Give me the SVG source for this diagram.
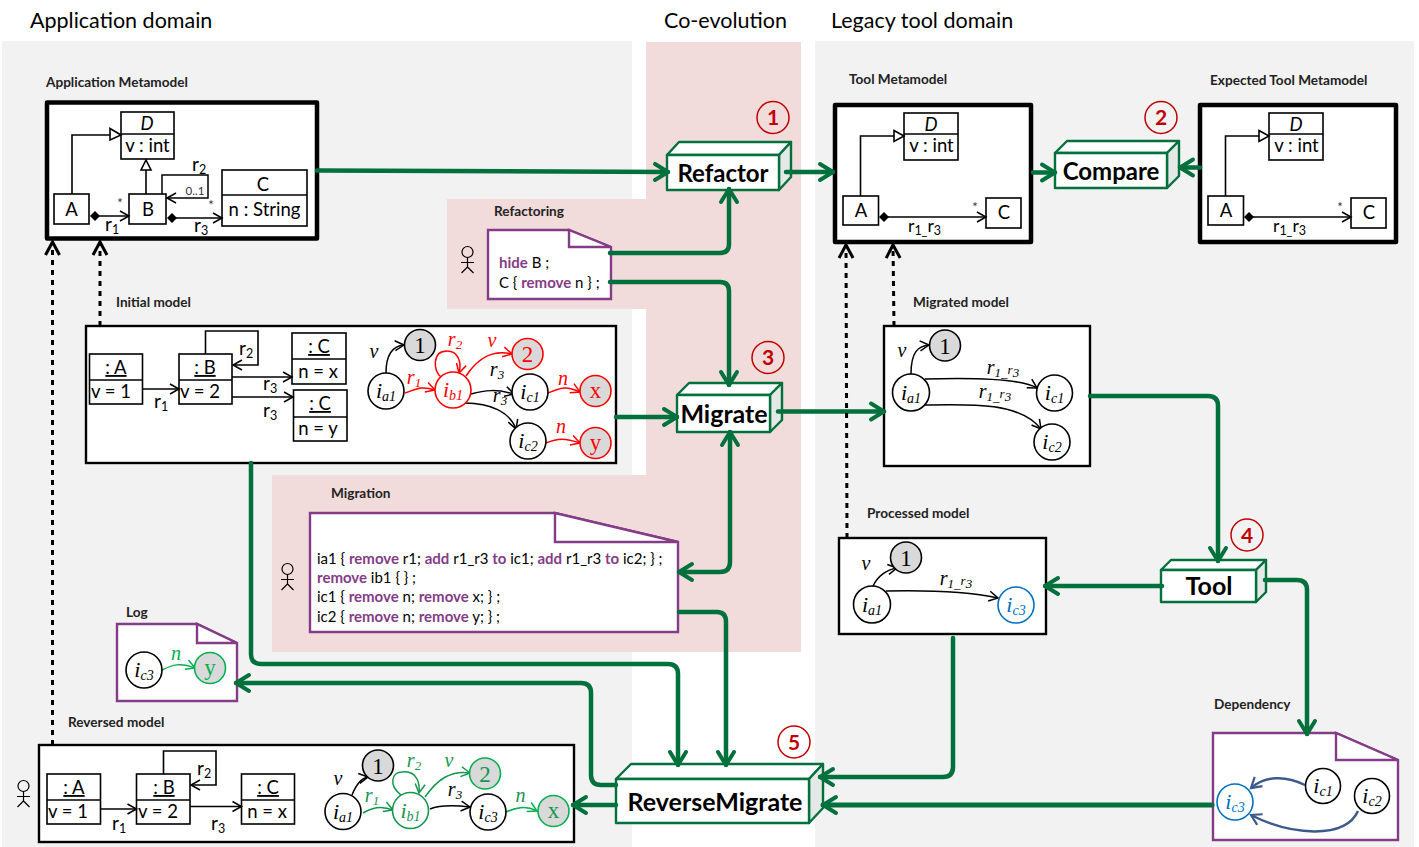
<svg xmlns="http://www.w3.org/2000/svg" width="1419" height="847" viewBox="0 0 1419 847">
<style>
text{font-family:"Lato","Liberation Sans",sans-serif;fill:#000}
.title{font-size:21.5px}
.lbl{font-size:13.6px;font-weight:700;fill:#222}
.cls{font-size:18.5px;text-anchor:middle}
.u{text-decoration:underline}
.it{font-style:italic}
.small{font-size:13px;text-anchor:middle;fill:#333}
.rel{font-size:19px}
.rel2{font-size:17.5px}
.sub{font-size:12.5px}
.box{fill:#fff;stroke:#000;stroke-width:1.6}
.mm{fill:#fff;stroke:#000;stroke-width:4.5;stroke-linejoin:round}
.mod{fill:#fff;stroke:#000;stroke-width:2.4}
.ln{fill:none;stroke:#000;stroke-width:1.6}
.e{fill:none;stroke:#000;stroke-width:1.5;marker-end:url(#ab)}
.er{fill:none;stroke:#f00;stroke-width:1.5;marker-end:url(#ar)}
.eg{fill:none;stroke:#00b050;stroke-width:1.5;marker-end:url(#ag)}
.ed{fill:none;stroke:#14964f;stroke-width:1.5;marker-end:url(#ad)}
.dep{fill:none;stroke:#3b5b8c;stroke-width:2.5;marker-end:url(#adep)}
.m{font-family:"Liberation Serif",serif;font-style:italic;font-size:22px;text-anchor:middle}
.m tspan{font-size:14px}
.ml{font-family:"Liberation Serif",serif;font-style:italic;font-size:20px;text-anchor:middle}
.ml tspan{font-size:13px}
.num{font-family:"Liberation Serif",serif;font-size:23px;text-anchor:middle}
.c{fill:#fff;stroke:#000;stroke-width:1.6}
.cv{fill:#d9d9d9;stroke:#000;stroke-width:1.6}
.red{fill:#f00}
.gr{fill:#00b050}
.dg{fill:#14964f}
.bl{fill:#0070c0}
.note{fill:#fff;stroke:#843c87;stroke-width:2.4;stroke-linejoin:miter}
.code{font-size:15px}
.kw{font-weight:700;fill:#843c87}
.op{fill:#fff;stroke:#00703c;stroke-width:2.4;stroke-linejoin:round}
.ops{fill:#e4e8e6;stroke:#00703c;stroke-width:2.4;stroke-linejoin:round}
.opt{font-weight:700;font-size:25px;text-anchor:middle}
.bc{fill:none;stroke:#c00000;stroke-width:1.5}
.bt{font-weight:700;font-size:21px;fill:#c00000;text-anchor:middle}
.g{fill:none;stroke:#00703c;stroke-width:4.5;stroke-linecap:round;marker-end:url(#at)}
.dot{fill:none;stroke:#000;stroke-width:3;stroke-dasharray:5 5;marker-end:url(#ak)}
</style>
<defs>
<marker id="ab" markerUnits="userSpaceOnUse" markerWidth="14" markerHeight="14" refX="0" refY="0" orient="auto" overflow="visible"><path d="M-9,-5 L0,0 L-9,5" fill="none" stroke="#000" stroke-width="1.5"/></marker>
<marker id="ar" markerUnits="userSpaceOnUse" markerWidth="14" markerHeight="14" orient="auto" overflow="visible"><path d="M-9,-5 L0,0 L-9,5" fill="none" stroke="#f00" stroke-width="1.5"/></marker>
<marker id="ag" markerUnits="userSpaceOnUse" markerWidth="14" markerHeight="14" orient="auto" overflow="visible"><path d="M-9,-5 L0,0 L-9,5" fill="none" stroke="#00b050" stroke-width="1.5"/></marker>
<marker id="ad" markerUnits="userSpaceOnUse" markerWidth="14" markerHeight="14" orient="auto" overflow="visible"><path d="M-9,-5 L0,0 L-9,5" fill="none" stroke="#14964f" stroke-width="1.5"/></marker>
<marker id="adep" markerUnits="userSpaceOnUse" markerWidth="14" markerHeight="14" orient="auto" overflow="visible"><path d="M-10,-6 L0,0 L-10,6" fill="none" stroke="#3b5b8c" stroke-width="2.2"/></marker>
<marker id="at" markerUnits="userSpaceOnUse" markerWidth="20" markerHeight="20" orient="auto-start-reverse" overflow="visible"><path d="M-13,-8 L0,0 L-13,8" fill="none" stroke="#00703c" stroke-width="4" stroke-linecap="round" stroke-linejoin="round"/></marker>
<marker id="ak" markerUnits="userSpaceOnUse" markerWidth="20" markerHeight="20" orient="auto" overflow="visible"><path d="M-13,-7 L0,0 L-13,7" fill="none" stroke="#000" stroke-width="3"/></marker>
<g id="actor"><circle cx="0" cy="0" r="5.5" fill="none" stroke="#000" stroke-width="1.2"/><path d="M0,5.5 V15 L-6,21 M0,15 L6,21 M-6.5,10.5 H6.5" fill="none" stroke="#000" stroke-width="1.2"/></g>
<path id="dia" d="M-5,0 L0,-5 L5,0 L0,5 Z" fill="#000"/>
</defs>

<rect width="1419" height="847" fill="#fff"/>
<g id="panels">
<rect x="2" y="41" width="630" height="806" fill="#f2f2f2"/>
<rect x="815" y="41" width="599" height="806" fill="#f2f2f2"/>
<rect x="646" y="42" width="155" height="610" fill="#f2dcdb"/>
<rect x="447" y="199" width="199" height="110" fill="#f2dcdb"/>
<rect x="272" y="475" width="374" height="177" fill="#f2dcdb"/>
</g>
<g id="titles">
<text class="title" x="30" y="28">Application domain</text>
<text class="title" x="664" y="28">Co-evolution</text>
<text class="title" x="831" y="28">Legacy tool domain</text>
</g>

<g id="application-metamodel">
<text class="lbl" x="46" y="87">Application Metamodel</text>
<rect class="mm" x="47" y="102.5" width="270" height="136"/>
<rect class="box" x="121" y="112" width="53" height="47"/><path class="ln" d="M121,134 H174"/>
<text class="cls it" x="147" y="130">D</text><text class="cls" x="147.500" y="152">v : int</text>
<rect class="box" x="54" y="194" width="35" height="30"/><text class="cls" x="71.500" y="216">A</text>
<rect class="box" x="129" y="194" width="37" height="30"/><text class="cls" x="148" y="216">B</text>
<rect class="box" x="222" y="170" width="85" height="56"/><path class="ln" d="M222,195 H307"/>
<text class="cls" x="263" y="191">C</text><text class="cls" x="264.500" y="216">n : String</text>
<path class="ln" d="M72,194 V135 H110"/><path d="M110,128.500 L121,135 L110,140 Z" fill="#fff" stroke="#000" stroke-width="1.6"/>
<path class="ln" d="M146,194 V170"/><path d="M146,160 L151,170 L141,170 Z" fill="#fff" stroke="#000" stroke-width="1.6"/>
<path class="e" d="M162,194 V175 H208 V198 H167"/>
<text class="small" x="195" y="195" style="font-size:11.500px">0..1</text>
<text class="rel" x="192" y="171">r<tspan class="sub" dy="3">2</tspan></text>
<use href="#dia" x="95" y="216"/><path class="e" d="M95,216 H129"/>
<text class="small" x="120" y="208">*</text>
<text class="rel" x="105" y="231">r<tspan class="sub" dy="3">1</tspan></text>
<use href="#dia" x="172" y="218"/><path class="e" d="M172,218 H222"/>
<text class="small" x="211" y="210">*</text>
<text class="rel" x="194" y="232">r<tspan class="sub" dy="3">3</tspan></text>
</g>

<g id="tool-metamodel">
<text class="lbl" x="849" y="84">Tool Metamodel</text>
<rect class="mm" x="835" y="105" width="196" height="137"/>
<rect class="box" x="904" y="113" width="54" height="47"/><path class="ln" d="M904,134 H958"/>
<text class="cls it" x="931" y="131">D</text><text class="cls" x="931.500" y="152">v : int</text>
<rect class="box" x="843" y="196" width="35.500" height="29"/><text class="cls" x="861" y="217">A</text>
<rect class="box" x="986" y="198" width="35" height="30"/><text class="cls" x="1004" y="219">C</text>
<path class="ln" d="M860.500,196 V136 H894"/><path d="M894,130.500 L904,136 L894,141.500 Z" fill="#fff" stroke="#000" stroke-width="1.600"/>
<use href="#dia" x="884" y="217"/><path class="e" d="M884,217 H986"/>
<text class="small" x="975" y="212">*</text>
<text class="rel2" x="908" y="232">r<tspan class="sub" dy="3">1_</tspan><tspan dy="-3">r</tspan><tspan class="sub" dy="3">3</tspan></text>
</g>

<g id="expected-tool-metamodel">
<text class="lbl" x="1210" y="85">Expected Tool Metamodel</text>
<rect class="mm" x="1200" y="105" width="196" height="137"/>
<rect class="box" x="1269" y="113" width="54" height="47"/><path class="ln" d="M1269,134 H1323"/>
<text class="cls it" x="1296" y="131">D</text><text class="cls" x="1296.500" y="152">v : int</text>
<rect class="box" x="1208" y="196" width="35.500" height="29"/><text class="cls" x="1226" y="217">A</text>
<rect class="box" x="1351" y="198" width="35" height="30"/><text class="cls" x="1369" y="219">C</text>
<path class="ln" d="M1225.500,196 V136 H1259"/><path d="M1259,130.500 L1269,136 L1259,141.500 Z" fill="#fff" stroke="#000" stroke-width="1.600"/>
<use href="#dia" x="1249" y="217"/><path class="e" d="M1249,217 H1351"/>
<text class="small" x="1340" y="212">*</text>
<text class="rel2" x="1273" y="232">r<tspan class="sub" dy="3">1_</tspan><tspan dy="-3">r</tspan><tspan class="sub" dy="3">3</tspan></text>
</g>

<g id="refactoring">
<text class="lbl" x="494" y="216">Refactoring</text>
<use href="#actor" x="467.500" y="252"/>
<path class="note" d="M488,230 H569 L611,247 V299 H488 Z"/><path class="note" d="M569,230 V247 H611 Z"/>
<text class="code" x="499" y="268"><tspan class="kw">hide</tspan> B ;</text>
<text class="code" x="499" y="288">C { <tspan class="kw">remove</tspan> n } ;</text>
</g>

<g id="initial-model">
<text class="lbl" x="116" y="307">Initial model</text>
<rect class="mod" x="86" y="326" width="530" height="137"/>
<rect class="box" x="89.500" y="354" width="53" height="50"/><path class="ln" d="M89.500,380 H142.500"/>
<text class="cls u" x="116" y="374">: A</text><text class="cls" x="111" y="398">v = 1</text>
<path class="ln" d="M205.500,354 V331 H258 V365 H233" marker-end="url(#ab)"/>
<rect class="box" x="179" y="354" width="53" height="50"/><path class="ln" d="M179,380 H232"/>
<text class="cls u" x="205" y="374">: B</text><text class="cls" x="200" y="398">v = 2</text>
<rect class="box" x="292" y="333" width="54" height="51"/><path class="ln" d="M292,359 H346"/>
<text class="cls u" x="319" y="353">: C</text><text class="cls" x="318" y="378">n = x</text>
<rect class="box" x="293.500" y="390" width="53.500" height="51"/><path class="ln" d="M293.500,417 H347"/>
<text class="cls u" x="320" y="410">: C</text><text class="cls" x="318" y="435">n = y</text>
<path class="e" d="M142.500,389 H179"/><text class="rel" x="154" y="408">r<tspan class="sub" dy="3">1</tspan></text>
<path class="e" d="M232,377 H292"/><text class="rel" x="263" y="390">r<tspan class="sub" dy="3">3</tspan></text>
<path class="e" d="M232,397 H293"/><text class="rel" x="263" y="417">r<tspan class="sub" dy="3">3</tspan></text>
<text class="rel" x="239" y="355">r<tspan class="sub" dy="3">2</tspan></text>
<path class="e" d="M386,373 C386,355 392,346 404,345"/>
<path class="er" d="M405,393 C415,390 420,385 435,390"/>
<path class="er" d="M441,377 C433,371 432,351 447,351 C458,351 462,362 459,373"/>
<path class="er" d="M466,376 C480,355 495,350 512,354"/>
<path class="e" d="M471,394 C485,390 497,389 514,394"/>
<path class="e" d="M465,403 C490,403 510,412 516,429"/>
<path class="er" d="M548,393 C560,388 565,385 580,392"/>
<path class="er" d="M546,443 C558,438 565,438 580,443"/>
<circle class="c" cx="386" cy="391" r="18"/><text class="m" x="386" y="398">i<tspan dy="3">a1</tspan></text>
<circle class="cv" cx="420" cy="345" r="15.500"/><text class="num" x="420" y="353">1</text>
<circle class="c" cx="453" cy="390" r="18" style="stroke:#f00"/><text class="m red" x="453" y="397">i<tspan dy="3">b1</tspan></text>
<circle class="cv" cx="527.500" cy="354" r="15.500" style="stroke:#f00"/><text class="num red" x="527.500" y="362">2</text>
<circle class="c" cx="530" cy="392" r="18"/><text class="m" x="530" y="399">i<tspan dy="3">c1</tspan></text>
<circle class="cv" cx="595.500" cy="391" r="15.500" style="stroke:#f00"/><text class="num red" x="595.500" y="398">x</text>
<circle class="c" cx="528" cy="441" r="18"/><text class="m" x="528" y="448">i<tspan dy="3">c2</tspan></text>
<circle class="cv" cx="595.500" cy="443" r="15.500" style="stroke:#f00"/><text class="num red" x="595.500" y="450">y</text>
<text class="ml" x="374" y="358">v</text>
<text class="ml red" x="414" y="384">r<tspan dy="3">1</tspan></text>
<text class="ml red" x="455" y="346">r<tspan dy="3">2</tspan></text>
<text class="ml red" x="492" y="347">v</text>
<text class="ml" x="497" y="376">r<tspan dy="3">3</tspan></text>
<text class="ml" x="500" y="402">r<tspan dy="3">3</tspan></text>
<text class="ml red" x="563" y="385">n</text>
<text class="ml red" x="561" y="433">n</text>
</g>

<g id="migrated-model">
<text class="lbl" x="913" y="307">Migrated model</text>
<rect class="mod" x="884" y="326" width="206" height="140"/>
<path class="e" d="M911,374 C911,352 918,346 929,345"/>
<path class="e" d="M925,379 C970,378 1020,378 1037,388"/>
<path class="e" d="M925,405 C970,404 1020,402 1041,429"/>
<circle class="c" cx="911" cy="392.500" r="18.500"/><text class="m" x="911" y="399.500">i<tspan dy="3">a1</tspan></text>
<circle class="cv" cx="945" cy="345.500" r="15.500"/><text class="num" x="945" y="353.500">1</text>
<circle class="c" cx="1054.500" cy="393" r="18"/><text class="m" x="1054.500" y="400">i<tspan dy="3">c1</tspan></text>
<circle class="c" cx="1052" cy="442" r="18"/><text class="m" x="1052" y="449">i<tspan dy="3">c2</tspan></text>
<text class="ml" x="902" y="357">v</text>
<text class="ml" x="1003" y="374">r<tspan dy="3">1_</tspan><tspan dy="-3">r</tspan><tspan dy="3">3</tspan></text>
<text class="ml" x="995" y="398">r<tspan dy="3">1_</tspan><tspan dy="-3">r</tspan><tspan dy="3">3</tspan></text>
</g>

<g id="processed-model">
<text class="lbl" x="867" y="518">Processed model</text>
<rect class="mod" x="839" y="538" width="207" height="96"/>
<path class="e" d="M873,586 C878,576 885,570 897,568"/>
<path class="e" d="M886,591 C930,590 970,592 998,598"/>
<circle class="c" cx="872" cy="604.500" r="18.500"/><text class="m" x="872" y="611.500">i<tspan dy="3">a1</tspan></text>
<circle class="cv" cx="906" cy="557.500" r="15.500"/><text class="num" x="906" y="565.500">1</text>
<circle class="c" cx="1016" cy="605" r="18" style="stroke:#0070c0"/><text class="m bl" x="1016" y="612">i<tspan dy="3">c3</tspan></text>
<text class="ml" x="866" y="570">v</text>
<text class="ml" x="956" y="585">r<tspan dy="3">1_</tspan><tspan dy="-3">r</tspan><tspan dy="3">3</tspan></text>
</g>

<g id="migration">
<text class="lbl" x="331" y="498">Migration</text>
<use href="#actor" x="287.500" y="569"/>
<path class="note" d="M310,513 H555 L678,542 V632 H310 Z"/><path class="note" d="M555,513 V542 H678 Z"/>
<text class="code" x="317" y="564">ia1 { <tspan class="kw">remove</tspan> r1; <tspan class="kw">add</tspan> r1_r3 <tspan class="kw">to</tspan> ic1; <tspan class="kw">add</tspan> r1_r3 <tspan class="kw">to</tspan> ic2; } ;</text>
<text class="code" x="317" y="583"><tspan class="kw">remove</tspan> ib1 { } ;</text>
<text class="code" x="317" y="602">ic1 { <tspan class="kw">remove</tspan> n; <tspan class="kw">remove</tspan> x; } ;</text>
<text class="code" x="317" y="622">ic2 { <tspan class="kw">remove</tspan> n; <tspan class="kw">remove</tspan> y; } ;</text>
</g>

<g id="log">
<text class="lbl" x="126" y="617">Log</text>
<path class="note" d="M117,624 H197 L237,643 V701 H117 Z"/><path class="note" d="M197,624 V643 H237 Z"/>
<path class="eg" d="M162,670 C172,665 180,662 195,668"/>
<circle class="c" cx="144" cy="670" r="18"/><text class="m" x="144" y="677">i<tspan dy="3">c3</tspan></text>
<circle class="cv" cx="210" cy="668" r="15.500" style="stroke:#00b050"/><text class="num gr" x="210" y="675">y</text>
<text class="ml gr" x="176" y="660">n</text>
</g>

<g id="reversed-model">
<text class="lbl" x="68" y="727">Reversed model</text>
<use href="#actor" x="23.500" y="786"/>
<rect class="mod" x="39" y="745" width="535" height="97"/>
<path class="ln" d="M163.500,774 V751 H216 V785 H191" marker-end="url(#ab)"/>
<rect class="box" x="47" y="774" width="53.500" height="50"/><path class="ln" d="M47,800 H100.500"/>
<text class="cls u" x="74" y="794">: A</text><text class="cls" x="68" y="818">v = 1</text>
<rect class="box" x="136.500" y="774" width="53.500" height="50"/><path class="ln" d="M136.500,800 H190"/>
<text class="cls u" x="164" y="794">: B</text><text class="cls" x="158" y="818">v = 2</text>
<rect class="box" x="241.500" y="774" width="53" height="50"/><path class="ln" d="M241.500,800 H294.500"/>
<text class="cls u" x="268" y="794">: C</text><text class="cls" x="267" y="818">n = x</text>
<path class="e" d="M100.500,809 H136.500"/><text class="rel" x="112" y="830">r<tspan class="sub" dy="3">1</tspan></text>
<path class="e" d="M190,806.500 H241.500"/><text class="rel" x="211" y="830">r<tspan class="sub" dy="3">3</tspan></text>
<text class="rel" x="197" y="775">r<tspan class="sub" dy="3">2</tspan></text>
<path class="e" d="M352,795 C356,785 362,778 368,777"/>
<path class="ed" d="M363,813 C372,808 380,805 393,810"/>
<path class="ed" d="M401,795 C388,785 392,772 402,772 C418,770 420,785 419,793"/>
<path class="ed" d="M425,797 C437,780 450,770 470,773"/>
<path class="e" d="M430,809 C440,805 452,805 470,807"/>
<path class="eg" d="M506,812 C515,808 525,805 537,811"/>
<circle class="c" cx="343" cy="811.500" r="18"/><text class="m" x="343" y="818.500">i<tspan dy="3">a1</tspan></text>
<circle class="cv" cx="378" cy="765.500" r="15.500"/><text class="num" x="378" y="773.500">1</text>
<circle class="c" cx="410.500" cy="810.500" r="18" style="stroke:#14964f"/><text class="m dg" x="410.500" y="817.500">i<tspan dy="3">b1</tspan></text>
<circle class="cv" cx="485" cy="773.500" r="15.500" style="stroke:#00b050"/><text class="num dg" x="485" y="781.500">2</text>
<circle class="c" cx="488" cy="812" r="18"/><text class="m" x="488" y="819">i<tspan dy="3">c3</tspan></text>
<circle class="cv" cx="553.500" cy="811" r="15.500" style="stroke:#00b050"/><text class="num dg" x="553.500" y="818">x</text>
<text class="ml" x="338" y="785">v</text>
<text class="ml dg" x="372" y="802">r<tspan dy="3">1</tspan></text>
<text class="ml dg" x="414" y="767">r<tspan dy="3">2</tspan></text>
<text class="ml dg" x="449" y="767">v</text>
<text class="ml" x="455" y="796">r<tspan dy="3">3</tspan></text>
<text class="ml dg" x="520.500" y="802">n</text>
</g>

<g id="dependency">
<text class="lbl" x="1214" y="709">Dependency</text>
<path class="note" d="M1213,733 H1336 L1398,760 V840 H1213 Z"/><path class="note" d="M1336,733 V760 H1398 Z"/>
<path class="dep" d="M1305,785 C1285,775 1265,776 1251,788"/>
<path class="dep" d="M1358,811 C1345,840 1290,835 1251,815"/>
<circle class="c" cx="1235" cy="802" r="18" style="stroke:#0070c0"/><text class="m bl" x="1235" y="809">i<tspan dy="3">c3</tspan></text>
<circle class="c" cx="1323" cy="786" r="17.500"/><text class="m" x="1323" y="793">i<tspan dy="3">c1</tspan></text>
<circle class="c" cx="1372" cy="796" r="17.500"/><text class="m" x="1372" y="803">i<tspan dy="3">c2</tspan></text>
</g>

<g id="refactor">
<path class="op" d="M667,155 L679,142 H791 L779,155 Z"/><path class="ops" d="M779,155 L791,142 V177 L779,190 Z"/><rect class="op" x="667" y="155" width="112" height="35"/>
<text class="opt" x="723" y="182" style="font-size:24px">Refactor</text>
<circle class="bc" cx="773" cy="117.500" r="16"/><text class="bt" x="773" y="125">1</text>
</g>
<g id="compare">
<path class="op" d="M1055,153 L1067,141 H1179 L1167,153 Z"/><path class="ops" d="M1167,153 L1179,141 V176 L1167,188 Z"/><rect class="op" x="1055" y="153" width="112" height="35"/>
<text class="opt" x="1111" y="180" style="font-size:24px">Compare</text>
<circle class="bc" cx="1161" cy="117.500" r="16"/><text class="bt" x="1161" y="125">2</text>
</g>
<g id="migrate">
<path class="op" d="M677,395 L689,383 H782 L770,395 Z"/><path class="ops" d="M770,395 L782,383 V420 L770,432 Z"/><rect class="op" x="677" y="395" width="93" height="37"/>
<text class="opt" x="724" y="423">Migrate</text>
<circle class="bc" cx="768" cy="357.500" r="16"/><text class="bt" x="768" y="365">3</text>
</g>
<g id="tool">
<path class="op" d="M1161,570 L1171,560 H1266 L1256,570 Z"/><path class="ops" d="M1256,570 L1266,560 V592 L1256,602 Z"/><rect class="op" x="1161" y="570" width="95" height="32"/>
<text class="opt" x="1209" y="595">Tool</text>
<circle class="bc" cx="1247" cy="535" r="16"/><text class="bt" x="1247" y="543">4</text>
</g>
<g id="reverse-migrate">
<path class="op" d="M616,779 L631,764 H823 L809,779 Z"/><path class="ops" d="M809,779 L823,764 V808 L809,823 Z"/><rect class="op" x="616" y="779" width="193" height="44"/>
<text class="opt" x="715" y="811">ReverseMigrate</text>
<circle class="bc" cx="794" cy="742" r="16"/><text class="bt" x="794" y="750">5</text>
</g>

<g id="connectors">
<path class="g" d="M317,170.500 L668,172"/>
<path class="g" d="M786,172 H833"/>
<path class="g" d="M1033,172.500 H1055"/>
<path class="g" d="M1200,167.500 H1180"/>
<path class="g" d="M610,253 H720 Q729,253 729,244 V189"/>
<path class="g" d="M610,282 H720 Q729,282 729,291 V385"/>
<path class="g" d="M616,417 H677"/>
<path class="g" d="M778,411.500 H884"/>
<path class="g" d="M1090,396 H1208 Q1218,396 1218,406 V561"/>
<path class="g" d="M1162,586 H1045"/>
<path class="g" d="M1265,580 H1297 Q1307,580 1307,590 V734"/>
<path class="g" d="M953,638 V767 Q953,777 943,777 H820"/>
<path class="g" d="M1212,805 H823" style="stroke-width:5"/>
<path class="g" d="M251,463 V654 Q251,664 261,664 H668 Q678,664 678,674 V765"/>
<path class="g" d="M679,612 H717 Q726,612 726,622 V765"/>
<path class="g" d="M679,572 H720 Q730,572 730,562 V432" style="marker-start:url(#at)"/>
<path class="g" d="M616,785 H601 Q591,785 591,775 V693 Q591,683 581,683 H236"/>
<path class="g" d="M616,805 H573"/>
<path class="dot" d="M52.500,745 V242"/>
<path class="dot" d="M100,326 V242"/>
<path class="dot" d="M847,538 L846,245"/>
<path class="dot" d="M894,326 L893,245"/>
</g>
</svg>
